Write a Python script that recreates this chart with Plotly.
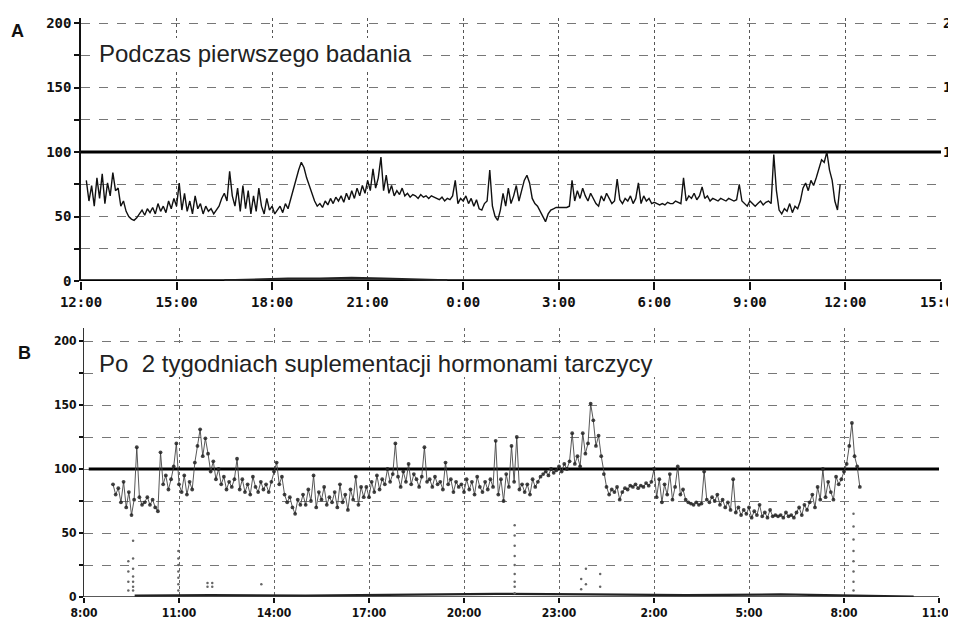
import numpy as np
import plotly.graph_objects as go

W, H = 956, 630
PAGE_PAD = 8  # default body margin of the html page

# ---------------- Panel A data (heart rate, 5-min samples from 12:10) ----------------
a_start_h = 12 + 10 / 60
a_step_h = 5 / 60
a_hr = [
    78, 62, 74, 58, 80, 64, 83, 60, 76, 66, 84, 70,      # 12:10
    72, 58, 62, 54, 50, 48, 47, 49, 52, 55, 51, 56,      # 13:10
    53, 57, 52, 60, 54, 58, 53, 62, 56, 64, 58, 76,      # 14:10
    55, 68, 54, 62, 52, 66, 56, 60, 52, 58, 54, 56,      # 15:10
    52, 55, 58, 64, 68, 62, 85, 66, 58, 72, 54, 74,      # 16:10
    56, 70, 52, 66, 54, 72, 58, 52, 64, 55, 58, 52,      # 17:10
    55, 58, 53, 60, 56, 64, 70, 78, 86, 92, 88, 80,      # 18:10
    74, 68, 62, 58, 60, 57, 62, 59, 64, 60, 65, 62,      # 19:10
    66, 61, 68, 63, 70, 64, 72, 66, 74, 68, 78, 70,      # 20:10
    87, 72, 80, 96, 70, 82, 68, 74, 66, 70, 67, 72,      # 21:10
    66, 68, 65, 67, 66, 64, 67, 65, 66, 64, 66, 65,      # 22:10
    64, 63, 65, 62, 64, 63, 66, 78, 60, 64, 62, 66,      # 23:10
    60, 64, 58, 63, 56, 55, 60, 62, 86, 58, 50, 47,      # 0:10
    55, 68, 58, 72, 60, 66, 74, 62, 70, 78, 82, 76,      # 1:10
    64, 60, 58, 54, 50, 46, 52, 55, 56, 57, 57, 57,      # 2:10
    57, 57, 58, 78, 62, 70, 64, 72, 66, 62, 68, 64,      # 3:10
    60, 58, 66, 62, 68, 64, 60, 62, 79, 63, 60, 64,      # 4:10
    62, 66, 60, 64, 76, 60, 66, 62, 64, 60, 61, 60,      # 5:10
    59, 60, 59, 61, 60, 60, 62, 61, 60, 80, 62, 66,      # 6:10
    64, 68, 63, 66, 73, 64, 66, 62, 64, 63, 62, 64,      # 7:10
    63, 62, 64, 63, 62, 63, 75, 62, 60, 58, 62, 60,      # 8:10
    58, 60, 62, 59, 61, 62, 60, 98, 70, 55, 52, 56,      # 9:10
    54, 60, 53, 58, 56, 62, 72, 76, 70, 78, 74, 80,      # 10:10
    88, 94, 92, 100, 86, 78, 62, 55, 75,                 # 11:10
]
a_low_h = [16.5, 17.5, 18.5, 19.5, 20.5, 21.5, 22.5, 23.5]
a_low_v = [0.5, 1.5, 2.0, 2.0, 2.5, 2.0, 1.5, 0.5]

a_tick_h = [12, 15, 18, 21, 24, 27, 30, 33, 36, 39]
a_tick_lbl = ["12:00", "15:00", "18:00", "21:00", "0:00", "3:00", "6:00", "9:00", "12:00", "15:00"]

# ---------------- Panel B data (5-min samples from 8:55) ----------------
b_start_h = 8 + 55 / 60
b_step_h = 5 / 60
b_hr = [
    88, 80, 85, 74, 90, 70, 82, 64, 76, 117, 78, 72,     # 8:55
    74, 78, 72, 76, 70, 67, 113, 88, 95, 84, 92, 102,    # 9:55
    120, 88, 82, 95, 80, 90, 84, 105, 118, 131, 110, 124, # 10:55
    112, 98, 106, 92, 100, 88, 94, 84, 90, 86, 92, 108,  # 11:55
    84, 92, 82, 88, 80, 94, 86, 82, 90, 84, 88, 82,      # 12:55
    90, 98, 105, 88, 94, 80, 74, 78, 70, 65, 76, 72,     # 13:55
    80, 72, 84, 75, 95, 70, 82, 76, 86, 72, 78, 74,      # 14:55
    82, 70, 88, 74, 80, 68, 84, 76, 94, 72, 86, 78,      # 15:55
    86, 78, 90, 82, 95, 84, 92, 88, 100, 90, 96, 120,    # 16:55
    94, 86, 98, 90, 104, 88, 96, 92, 86, 94, 117, 90,    # 17:55
    92, 86, 94, 88, 90, 84, 105, 88, 92, 82, 90, 86,     # 18:55
    88, 82, 92, 84, 90, 80, 94, 86, 82, 90, 84, 92,      # 19:55
    86, 122, 80, 92, 75, 96, 86, 118, 90, 125, 84, 88,   # 20:55
    82, 88, 80, 92, 86, 90, 94, 96, 98, 95, 100, 97,     # 21:55
    99, 102, 98, 104, 100, 106, 128, 104, 110, 102, 128, 112,  # 22:55
    120, 151, 138, 118, 126, 110, 96, 86, 80, 84, 82, 86,      # 23:55
    76, 82, 85, 84, 87, 86, 88, 85, 87, 86, 89, 87,      # 0:55
    90, 100, 78, 92, 74, 88, 80, 96, 76, 86, 102, 80,    # 1:55
    84, 76, 74, 73, 72, 74, 72, 73, 98, 76, 74, 78,      # 2:55
    75, 80, 72, 76, 70, 74, 68, 92, 66, 70, 64, 68,      # 3:55
    65, 70, 62, 67, 64, 72, 63, 66, 62, 68, 63, 64,      # 4:55
    63, 64, 62, 66, 63, 64, 62, 66, 70, 64, 72, 68,      # 5:55
    74, 80, 70, 86, 76, 100, 78, 90, 82, 76, 94, 88,     # 6:55
    92, 98, 104, 118, 136, 110, 102, 86,                 # 7:55
]
b_low_h = [9.4, 9.4, 9.4, 9.4, 9.55, 9.55, 9.55, 9.55, 9.55, 9.55, 9.55,
           10.98, 10.98, 10.98, 10.98, 10.98, 10.98, 10.98, 11.9, 11.9, 12.05, 12.05, 13.6,
           21.6, 21.6, 21.6, 21.6, 21.6, 21.6, 21.6, 21.6, 21.6,
           23.7, 23.7, 23.85, 23.85, 24.3, 24.3,
           32.3, 32.3, 32.3, 32.3, 32.3, 32.3, 32.3, 32.3]
b_low_v = [5, 12, 20, 28, 5, 8, 12, 16, 22, 30, 44,
           5, 10, 15, 20, 25, 30, 36, 8, 11, 8, 11, 10,
           3, 8, 12, 18, 25, 32, 40, 48, 56,
           6, 14, 10, 22, 8, 18,
           5, 12, 20, 28, 36, 45, 55, 65]
b_base_h = [9.6, 12, 15, 18, 21, 24, 27, 30, 33, 34.2]
b_base_v = [1.0, 1.5, 1.0, 2.0, 2.5, 2.0, 1.5, 2.0, 1.0, 0.3]

b_tick_h = [8, 11, 14, 17, 20, 23, 26, 29, 32, 35]
b_tick_lbl = ["8:00", "11:00", "14:00", "17:00", "20:00", "23:00", "2:00", "5:00", "8:00", "11:00"]

y_ticks = [0, 25, 50, 75, 100, 125, 150, 175, 200]
y_lbls = ["0", "", "50", "", "100", "", "150", "", "200"]
right_lbl_vals = [100, 150, 200]
right_lbls = ["100", "150", "200"]

a_t = a_start_h + np.arange(len(a_hr)) * a_step_h
b_t = b_start_h + np.arange(len(b_hr)) * b_step_h


def px(x):
    return (x - PAGE_PAD) / W


def py(y):
    return 1 - (y - PAGE_PAD) / H


fig = go.Figure()

fig.add_trace(go.Scatter(x=a_low_h, y=a_low_v, mode="lines", xaxis="x", yaxis="y",
                         line=dict(color="#222", width=2), hoverinfo="skip", showlegend=False))
fig.add_trace(go.Scatter(x=a_t, y=a_hr, mode="lines", xaxis="x", yaxis="y",
                         line=dict(color="#111", width=1.4), showlegend=False))

fig.add_trace(go.Scatter(x=b_base_h, y=b_base_v, mode="lines", xaxis="x2", yaxis="y2",
                         line=dict(color="#222", width=2.2), hoverinfo="skip", showlegend=False))
fig.add_trace(go.Scatter(x=b_low_h, y=b_low_v, mode="markers", xaxis="x2", yaxis="y2",
                         marker=dict(color="#666", size=2.5), showlegend=False))
fig.add_trace(go.Scatter(x=b_t, y=b_hr, mode="lines+markers", xaxis="x2", yaxis="y2",
                         line=dict(color="#444", width=0.9),
                         marker=dict(color="#222", size=3.8, opacity=0.85), showlegend=False))

mono = dict(family="DejaVu Sans Mono", size=14, color="#111", weight="bold")
narrow = dict(family="Liberation Sans Narrow, DejaVu Sans Condensed, DejaVu Sans Mono",
              size=12, color="#111", weight="bold")

# pixel geometry (screen coordinates)
A_x0, A_x1 = 81, 941
A_y0 = 281; A_ppu = 1.29; A_top = 204
B_x0, B_x1 = 84, 939
B_y0 = 597; B_ppu = 1.28; B_top = 210

fig.update_layout(
    template="none",
    width=W, height=H, margin=dict(l=0, r=0, t=0, b=0, autoexpand=False),
    paper_bgcolor="white", plot_bgcolor="white",
    xaxis=dict(domain=[px(A_x0), px(A_x1)], range=[12, 39], anchor="y", automargin=False,
               tickvals=a_tick_h, ticktext=a_tick_lbl, tickfont=mono,
               ticks="outside", ticklen=8, tickwidth=1.5, tickcolor="#111",
               ticklabeloverflow="allow",
               showgrid=True, gridcolor="#555", gridwidth=1, griddash="dot",
               showline=False, zeroline=False),
    yaxis=dict(domain=[py(A_y0), py(A_y0 - A_top * A_ppu)], range=[0, A_top], anchor="x",
               automargin=False,
               tickvals=y_ticks, ticktext=y_lbls, tickfont=mono,
               ticks="outside", ticklen=5, tickwidth=1.5, tickcolor="#111",
               showgrid=True, gridcolor="#777", gridwidth=1, griddash="dash",
               showline=True, linecolor="#111", linewidth=1.5, zeroline=False),
    yaxis3=dict(overlaying="y", side="right", anchor="x", range=[0, A_top], automargin=False,
                tickvals=y_ticks, showticklabels=False,
                ticks="outside", ticklen=5, tickwidth=1.5, tickcolor="#111",
                showgrid=False, showline=True, linecolor="#111", linewidth=1.5, zeroline=False),
    xaxis2=dict(domain=[px(B_x0), px(B_x1)], range=[8, 35], anchor="y2", automargin=False,
                tickvals=b_tick_h, ticktext=b_tick_lbl, tickfont=narrow,
                ticks="outside", ticklen=5, tickwidth=1.5, tickcolor="#111",
                showgrid=True, gridcolor="#666", gridwidth=1.3, griddash="dot",
                showline=False, zeroline=False),
    yaxis2=dict(domain=[py(B_y0), py(B_y0 - B_top * B_ppu)], range=[0, B_top], anchor="x2",
                automargin=False,
                tickvals=y_ticks, ticktext=y_lbls, tickfont=narrow,
                ticks="outside", ticklen=4, tickwidth=1.5, tickcolor="#111",
                showgrid=True, gridcolor="#777", gridwidth=1.2, griddash="dash",
                showline=True, linecolor="#333", linewidth=1.2, zeroline=False),
    yaxis4=dict(overlaying="y2", side="right", anchor="x2", range=[0, B_top], automargin=False,
                tickvals=y_ticks, showticklabels=False,
                ticks="outside", ticklen=4, tickwidth=1.5, tickcolor="#111",
                showgrid=False, showline=False, zeroline=False),
)

shapes = [
    dict(type="line", xref="x", yref="y", x0=12, x1=39, y0=100, y1=100,
         line=dict(color="black", width=3), layer="between"),
    dict(type="line", xref="x", yref="y", x0=12, x1=39, y0=0, y1=0,
         line=dict(color="black", width=3.5), layer="between"),
    dict(type="line", xref="x2", yref="y2", x0=8.15, x1=35, y0=100, y1=100,
         line=dict(color="black", width=3), layer="between"),
    dict(type="line", xref="x2", yref="y2", x0=8, x1=35, y0=0, y1=0,
         line=dict(color="#222", width=1.5), layer="between"),
    # white label boxes
    dict(type="rect", xref="paper", yref="paper", x0=px(94), x1=px(419), y0=py(72), y1=py(38),
         fillcolor="white", line=dict(width=0), layer="above"),
    dict(type="rect", xref="paper", yref="paper", x0=px(95), x1=px(741), y0=py(377), y1=py(346),
         fillcolor="white", line=dict(width=0), layer="above"),
]
fig.update_layout(shapes=shapes)

# right-hand axis labels of panel A (run off the page edge as in the original printout)
for v, t in zip(right_lbl_vals, right_lbls):
    fig.add_annotation(x=px(942), y=v, xref="paper", yref="y", xanchor="left", yanchor="middle",
                       text=t, showarrow=False, font=mono, borderpad=0)

ann_font = dict(family="Liberation Sans, Arial, sans-serif", size=24, color="#222")
fig.add_annotation(x=px(97), y=py(54), xref="paper", yref="paper", xanchor="left", yanchor="middle",
                   text="Podczas pierwszego badania", showarrow=False, font=ann_font)
fig.add_annotation(x=px(97), y=py(363), xref="paper", yref="paper", xanchor="left", yanchor="middle",
                   text="Po&nbsp;&nbsp;2 tygodniach suplementacji hormonami tarczycy",
                   showarrow=False, font=ann_font)
lab_font = dict(family="Liberation Sans, Arial, sans-serif", size=18, color="#111", weight="bold")
fig.add_annotation(x=px(9), y=py(31), xref="paper", yref="paper", xanchor="left", yanchor="middle",
                   text="A", showarrow=False, font=lab_font)
fig.add_annotation(x=px(16), y=py(353), xref="paper", yref="paper", xanchor="left", yanchor="middle",
                   text="B", showarrow=False, font=lab_font)

fig.write_html("out.html")
